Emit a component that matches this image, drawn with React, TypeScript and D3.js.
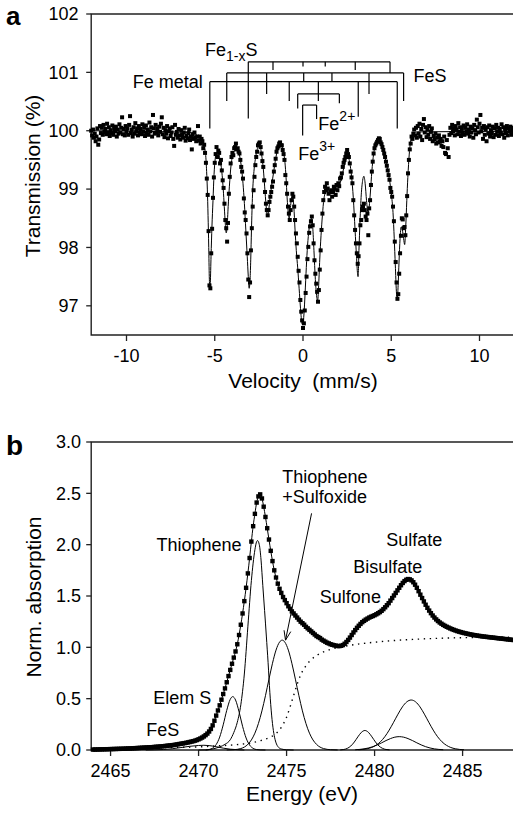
import React from 'react'
import * as d3 from 'd3'

const FONT = '"Liberation Sans", Arial, Helvetica, sans-serif'

// ---------- panel a: Mossbauer spectrum ----------
const velocityStep = 0.05
const transLeftStart = -12
const transLeft = [
  100.00, 99.92, 100.02, 99.88, 99.95, 99.82, 99.90, 100.04, 99.76, 99.85,
  100.08, 99.96, 100.05, 99.93, 100.10, 99.98, 100.03, 99.94, 100.12, 99.97,
  100.06, 99.91, 100.01, 99.96, 100.09, 99.93, 100.04, 99.99, 100.07, 99.90,
  100.02, 99.95, 100.11, 99.97, 100.05, 100.23, 99.94, 100.03, 99.92, 100.08,
  99.98, 100.04, 99.93, 100.10, 100.25, 99.96, 100.02, 99.90, 100.06, 99.95,
  100.13, 99.99, 100.04, 99.92, 100.08, 99.97, 100.03, 99.94, 100.11, 99.98,
  100.05, 99.91, 100.09, 99.96, 100.02, 99.93, 100.14, 99.99, 100.06, 99.90,
  100.27, 100.04, 99.95, 100.10, 99.97, 100.03, 99.92, 100.07, 99.98, 100.12,
  100.23, 99.94, 100.05, 99.89, 100.01, 99.95, 100.08, 99.87, 99.99, 100.04,
  99.91, 99.97, 100.06, 99.86, 99.74, 100.10, 99.93, 99.98, 99.88, 100.03,
  99.92, 99.85, 100.01, 99.94, 99.88, 99.97, 100.05, 99.83, 99.91, 99.87,
  99.96, 100.02, 99.84, 99.90, 99.68, 99.93, 99.86, 99.97, 99.88, 99.82,
  99.90, 100.08,
]
const transMidStart = -5.9
const transMid = [
  99.83, 99.90, 99.78, 99.86, 99.82, 99.70, 99.76, 99.62, 99.45, 99.18,
  98.90, 98.28, 97.35, 97.30, 97.90, 98.32, 98.85, 99.20, 99.45, 99.60,
  99.72, 99.55, 99.66, 99.62, 99.44, 99.50, 99.32, 99.15, 99.02, 98.75,
  98.47, 98.33, 98.10, 98.42, 98.92, 99.21, 99.44, 99.55, 99.62, 99.58,
  99.70, 99.72, 99.78, 99.68, 99.70, 99.64, 99.61, 99.50, 99.38, 99.30,
  99.18, 98.84, 98.60, 98.47, 98.24, 97.90, 97.45, 97.15, 97.40, 97.95,
  98.33, 98.70, 98.98, 99.21, 99.41, 99.55, 99.64, 99.75, 99.78, 99.80,
  99.72, 99.61, 99.48, 99.38, 99.15, 98.95, 98.75, 98.64, 98.55, 98.64,
  98.78, 98.87, 98.95, 99.04, 99.13, 99.30, 99.41, 99.52, 99.64, 99.70,
  99.73, 99.78, 99.80, 99.75, 99.75, 99.67, 99.60, 99.50, 99.24, 99.10,
  98.92, 98.70, 98.58, 98.47, 98.64, 98.81, 98.92, 98.87, 98.70, 98.47,
  98.24, 98.07, 97.84, 97.60, 97.40, 97.10, 96.90, 96.75, 96.62, 96.70,
  96.92, 97.22, 97.50, 97.80, 98.01, 98.25, 98.36, 98.45, 98.53, 98.38,
  98.07, 97.78, 97.55, 97.38, 97.24, 97.07, 97.27, 97.62, 97.95, 98.30,
  98.58, 98.81, 98.95, 99.04, 98.98, 99.10, 99.01, 98.92, 98.81, 98.95,
  98.98, 98.87, 98.95, 99.04, 99.01, 98.90, 99.07, 98.98, 99.10, 99.05,
  99.18, 99.20, 99.27, 99.38, 99.45, 99.50, 99.55, 99.61, 99.67, 99.60,
  99.55, 99.44, 99.30, 99.20, 99.10, 98.81, 98.55, 98.30, 98.07, 97.90,
  97.72, 97.85, 98.07, 98.38, 98.47, 98.64, 98.70, 98.75, 98.64, 98.53,
  98.47, 98.58, 98.21, 98.67, 98.81, 99.07, 99.30, 99.47, 99.61, 99.70,
  99.75, 99.78, 99.81, 99.84, 99.87, 99.86, 99.80, 99.77, 99.72, 99.67,
  99.61, 99.55, 99.47, 99.40, 99.32, 99.24, 99.16, 99.02, 98.95, 98.87,
  98.70, 98.45, 98.10, 97.75, 97.40, 97.12, 97.20, 97.55, 97.90, 98.20,
  98.50, 98.48, 98.33, 98.35, 98.21, 98.55, 98.88, 99.27, 99.50, 99.68,
  99.78, 99.90, 99.86, 99.95, 100.02,
]
const transRightStart = 6.35
const transRight = [
  99.92, 100.05, 99.88, 100.08, 99.95, 100.12, 99.90, 100.03, 99.84, 100.10,
  100.20, 99.97, 100.06, 99.89, 100.02, 99.93, 100.08, 99.86, 99.98, 100.04,
  99.82, 99.91, 99.85, 99.95, 99.78, 99.88, 99.80, 99.92, 99.81, 99.86,
  99.74, 99.82, 99.72, 99.90, 99.62, 99.60, 99.84, 99.70, 99.55, 99.93,
  100.05, 99.96, 100.10, 99.99, 100.04, 99.92, 100.08, 100.02, 99.94, 100.13,
  99.98, 100.06, 99.91, 100.03, 99.96, 100.09, 99.93, 100.05, 99.99, 100.11,
  99.95, 100.02, 99.90, 100.07, 99.97, 100.04, 99.88, 100.10, 100.01, 99.94,
  100.19, 100.06, 99.97, 100.12, 100.27, 99.99, 100.05, 99.86, 100.08, 99.93,
  100.03, 99.82, 100.06, 99.95, 100.09, 99.90, 100.01, 99.96, 100.07, 99.89,
  100.04, 99.93, 100.10, 99.98, 100.05, 99.91, 100.03, 99.97, 100.11, 99.94,
  100.06, 99.88, 100.02, 99.96, 100.08, 99.92, 100.04, 99.99, 100.07, 99.93,
  100.02, 99.97, 100.05, 99.95,
]
// fitted envelope [velocity, transmission]
const fitCurve: [number, number][] = [
  [-12, 100.0], [-6.3, 99.97], [-6.0, 99.92], [-5.8, 99.85], [-5.7, 99.8], [-5.6, 99.72],
  [-5.52, 99.6], [-5.46, 99.3], [-5.42, 99.0], [-5.38, 98.55], [-5.34, 98.0], [-5.31, 97.5],
  [-5.28, 97.28], [-5.25, 97.4], [-5.21, 97.85], [-5.16, 98.35], [-5.1, 98.8], [-5.04, 99.25],
  [-4.98, 99.5], [-4.9, 99.62], [-4.8, 99.62], [-4.7, 99.5], [-4.6, 99.3], [-4.52, 99.0],
  [-4.46, 98.7], [-4.4, 98.4], [-4.35, 98.25], [-4.3, 98.35], [-4.24, 98.7], [-4.17, 99.05],
  [-4.08, 99.4], [-3.98, 99.58], [-3.8, 99.68], [-3.62, 99.6], [-3.5, 99.4], [-3.4, 99.1],
  [-3.32, 98.75], [-3.24, 98.3], [-3.16, 97.85], [-3.1, 97.5], [-3.05, 97.3], [-3.0, 97.45],
  [-2.96, 97.8], [-2.92, 98.3], [-2.86, 98.9], [-2.78, 99.3], [-2.68, 99.55], [-2.55, 99.72],
  [-2.45, 99.75], [-2.35, 99.6], [-2.25, 99.35], [-2.15, 98.95], [-2.07, 98.65], [-2.01, 98.55],
  [-1.95, 98.62], [-1.87, 98.85], [-1.78, 99.05], [-1.65, 99.32], [-1.5, 99.6], [-1.35, 99.75],
  [-1.22, 99.75], [-1.12, 99.65], [-1.02, 99.45], [-0.96, 99.2], [-0.9, 98.85], [-0.83, 98.58],
  [-0.78, 98.5], [-0.73, 98.62], [-0.65, 98.85], [-0.58, 98.88], [-0.52, 98.7], [-0.45, 98.3],
  [-0.38, 97.95], [-0.3, 97.65], [-0.22, 97.3], [-0.14, 96.95], [-0.06, 96.7], [-0.02, 96.68],
  [0.04, 96.8], [0.1, 97.1], [0.17, 97.55], [0.24, 97.95], [0.32, 98.25], [0.42, 98.45],
  [0.49, 98.5], [0.55, 98.35], [0.62, 97.95], [0.7, 97.45], [0.78, 97.15], [0.83, 97.08],
  [0.88, 97.3], [0.95, 97.8], [1.02, 98.2], [1.1, 98.55], [1.18, 98.82], [1.3, 98.95],
  [1.5, 98.97], [1.8, 98.97], [2.0, 99.02], [2.15, 99.15], [2.3, 99.35], [2.45, 99.52],
  [2.55, 99.55], [2.65, 99.45], [2.75, 99.22], [2.85, 98.85], [2.95, 98.3], [3.03, 97.85],
  [3.09, 97.55], [3.12, 97.5], [3.17, 97.95], [3.23, 98.45], [3.3, 98.9], [3.38, 99.15],
  [3.45, 99.22], [3.52, 99.1], [3.6, 98.8], [3.68, 98.6], [3.75, 98.7], [3.82, 98.95],
  [3.9, 99.3], [4.0, 99.6], [4.15, 99.78], [4.32, 99.85], [4.5, 99.75], [4.65, 99.55],
  [4.8, 99.32], [4.92, 99.12], [5.02, 98.88], [5.1, 98.6], [5.17, 98.15], [5.23, 97.7],
  [5.29, 97.25], [5.34, 97.1], [5.39, 97.35], [5.44, 97.75], [5.5, 98.15], [5.56, 98.35],
  [5.63, 98.3], [5.7, 98.15], [5.76, 98.05], [5.82, 98.35], [5.88, 98.8], [5.94, 99.2],
  [6.02, 99.6], [6.12, 99.85], [6.25, 99.95], [6.5, 99.98], [12, 99.99],
]
const velocityTicks = [-10, -5, 0, 5, 10]
const transmissionTicks = [97, 98, 99, 100, 101, 102]

// stick diagrams: level of the bar, then [velocity, lower end of the stick]
const fe1xsLevel = 101.18
const fe1xsSticks = [[-3.1, 100.21], [-1.7, 101.04], [0.0, 101.1], [1.26, 101.1], [2.96, 101.04], [4.93, 100.99]]
const fesLevel = 100.99
const fesSticks = [[-4.32, 100.51], [-2.06, 100.63], [0.04, 100.84], [1.64, 100.84], [3.74, 100.63], [5.7, 100.51]]
const feMetalLevel = 100.84
const feMetalSticks = [[-5.28, 100.04], [-0.78, 100.51], [0.87, 100.51], [3.13, 100.24], [5.34, 100.04]]
const fe2Level = 100.63
const fe2Sticks = [[-0.3, 100.38], [2.06, 100.47]]
const fe3Level = 100.44
const fe3Sticks = [[-0.02, 99.92], [0.77, 100.2]]

// ---------- panel b: S K-edge XANES ----------
const energyStep = 0.1
const absPreStart = 2464.0
const absPre = [
  0.004, 0.004, 0.005, 0.005, 0.006, 0.006, 0.007, 0.007, 0.008, 0.008,
  0.009, 0.009, 0.010, 0.010, 0.011, 0.011, 0.012, 0.012, 0.013, 0.014,
  0.015, 0.015, 0.016, 0.017, 0.018, 0.019, 0.020, 0.021, 0.022, 0.023,
  0.024, 0.025, 0.026, 0.027, 0.028, 0.030, 0.031, 0.032, 0.034, 0.035,
  0.037, 0.039, 0.041, 0.043, 0.045, 0.047, 0.049, 0.052, 0.055, 0.058,
  0.061, 0.064, 0.067, 0.070, 0.074, 0.078, 0.082, 0.086, 0.091, 0.097,
]
const absEdgeStart = 2470.0
const absEdge = [
  0.104, 0.112, 0.121, 0.132, 0.145, 0.160, 0.180, 0.205, 0.240, 0.285,
  0.335, 0.385, 0.435, 0.49, 0.545, 0.60, 0.66, 0.72, 0.78, 0.84,
  0.90, 0.96, 1.03, 1.12, 1.22, 1.33, 1.45, 1.58, 1.72, 1.87,
  2.03, 2.18, 2.30, 2.41, 2.47, 2.49, 2.45, 2.37, 2.27, 2.16,
  2.05, 1.94, 1.84, 1.75, 1.68, 1.62, 1.57, 1.53, 1.49, 1.46,
  1.43, 1.40, 1.375, 1.35, 1.33, 1.31, 1.29, 1.27, 1.25, 1.235,
  1.22, 1.20, 1.185, 1.17, 1.155, 1.14, 1.125, 1.11, 1.10, 1.09,
  1.075, 1.065, 1.055, 1.045, 1.038, 1.03, 1.025, 1.02, 1.016, 1.013,
]
const absPostStart = 2478.0
const absPost = [
  1.012, 1.015, 1.022, 1.035, 1.052, 1.072, 1.095, 1.12, 1.145, 1.168,
  1.19, 1.21, 1.228, 1.245, 1.258, 1.27, 1.28, 1.29, 1.298, 1.305,
  1.313, 1.322, 1.332, 1.343, 1.356, 1.372, 1.39, 1.41, 1.43, 1.455,
  1.48, 1.505, 1.53, 1.555, 1.58, 1.605, 1.627, 1.645, 1.658, 1.665,
  1.662, 1.652, 1.634, 1.61, 1.58, 1.547, 1.513, 1.48, 1.447, 1.415,
  1.385, 1.358, 1.333, 1.31, 1.29, 1.272, 1.256, 1.242, 1.23, 1.219,
  1.209, 1.2, 1.192, 1.184, 1.177, 1.17, 1.164, 1.158, 1.153, 1.148,
  1.143, 1.139, 1.135, 1.131, 1.127, 1.124, 1.121, 1.118, 1.115, 1.112,
  1.11, 1.107, 1.105, 1.103, 1.101, 1.099, 1.097, 1.095, 1.093, 1.091,
  1.089, 1.087, 1.085, 1.083, 1.081, 1.079, 1.077, 1.075, 1.073, 1.071,
  1.069,
]
// fitted components [energy, absorption]
const compFeS: [number, number][] = [
  [2467.0, 0], [2467.5, 0.002], [2468.0, 0.005], [2468.5, 0.012], [2469.0, 0.024], [2469.5, 0.036],
  [2470.0, 0.044], [2470.3, 0.046], [2470.6, 0.043], [2471.0, 0.032], [2471.4, 0.018],
  [2471.8, 0.008], [2472.2, 0.003], [2472.6, 0],
]
const compElemS: [number, number][] = [
  [2470.0, 0], [2470.4, 0.001], [2470.6, 0.005], [2470.8, 0.018], [2471.0, 0.053], [2471.2, 0.126],
  [2471.4, 0.245], [2471.6, 0.386], [2471.8, 0.494], [2471.94, 0.52], [2472.1, 0.487],
  [2472.3, 0.372], [2472.5, 0.231], [2472.7, 0.117], [2472.9, 0.048], [2473.1, 0.016],
  [2473.3, 0.004], [2473.5, 0.001], [2473.8, 0],
]
const compThiophene: [number, number][] = [
  [2470.4, 0], [2470.8, 0.01], [2471.2, 0.03], [2471.5, 0.055], [2471.8, 0.10], [2472.0, 0.17],
  [2472.2, 0.27], [2472.4, 0.44], [2472.6, 0.74], [2472.8, 1.2], [2473.0, 1.65], [2473.1, 1.82],
  [2473.2, 1.95], [2473.3, 2.03], [2473.35, 2.04], [2473.45, 2.0], [2473.55, 1.85],
  [2473.65, 1.6], [2473.75, 1.36], [2473.85, 1.11], [2473.95, 0.85], [2474.05, 0.56],
  [2474.15, 0.34], [2474.25, 0.19], [2474.35, 0.1], [2474.5, 0.035], [2474.7, 0.01],
  [2475.0, 0.002], [2475.4, 0],
]
const compSulfoxide: [number, number][] = [
  [2471.6, 0.0005], [2472.0, 0.003], [2472.4, 0.014], [2472.8, 0.055], [2473.0, 0.098],
  [2473.2, 0.164], [2473.4, 0.258], [2473.6, 0.381], [2473.8, 0.529], [2474.0, 0.69],
  [2474.2, 0.845], [2474.4, 0.973], [2474.6, 1.051], [2474.75, 1.07], [2474.9, 1.051],
  [2475.1, 0.973], [2475.3, 0.845], [2475.5, 0.69], [2475.7, 0.529], [2475.9, 0.381],
  [2476.1, 0.258], [2476.3, 0.164], [2476.5, 0.098], [2476.7, 0.055], [2477.1, 0.014],
  [2477.5, 0.003], [2477.9, 0.0005],
]
const compSulfone: [number, number][] = [
  [2478.05, 0.0015], [2478.25, 0.005], [2478.45, 0.016], [2478.65, 0.039], [2478.85, 0.078],
  [2479.05, 0.128], [2479.25, 0.172], [2479.45, 0.19], [2479.65, 0.172], [2479.85, 0.128],
  [2480.05, 0.078], [2480.25, 0.039], [2480.45, 0.016], [2480.65, 0.005], [2480.85, 0.0015],
]
const compBisulfate: [number, number][] = [
  [2478.9, 0.0027], [2479.15, 0.0057], [2479.4, 0.011], [2479.65, 0.0196], [2479.9, 0.0324],
  [2480.15, 0.0496], [2480.4, 0.07], [2480.65, 0.092], [2480.9, 0.111], [2481.15, 0.125],
  [2481.4, 0.13], [2481.65, 0.125], [2481.9, 0.111], [2482.15, 0.092], [2482.4, 0.07],
  [2482.65, 0.0496], [2482.9, 0.0324], [2483.15, 0.0196], [2483.4, 0.011], [2483.65, 0.0057],
  [2483.9, 0.0027],
]
const compSulfate: [number, number][] = [
  [2479.08, 0.0024], [2479.33, 0.0056], [2479.58, 0.0121], [2479.83, 0.0245], [2480.08, 0.0459],
  [2480.33, 0.0798], [2480.58, 0.129], [2480.83, 0.194], [2481.08, 0.27], [2481.33, 0.349],
  [2481.58, 0.42], [2481.83, 0.469], [2482.08, 0.487], [2482.33, 0.469], [2482.58, 0.42],
  [2482.83, 0.349], [2483.08, 0.27], [2483.33, 0.194], [2483.58, 0.129], [2483.83, 0.0798],
  [2484.08, 0.0459], [2484.33, 0.0245], [2484.58, 0.0121], [2484.83, 0.0056], [2485.08, 0.0024],
]
const edgeStep: [number, number][] = [
  [2464.0, 0.015], [2466.0, 0.019], [2468.0, 0.024], [2470.0, 0.03], [2471.0, 0.04],
  [2472.0, 0.05], [2473.0, 0.07], [2473.5, 0.09], [2474.0, 0.12], [2474.4, 0.16], [2474.7, 0.22],
  [2475.0, 0.32], [2475.2, 0.42], [2475.4, 0.53], [2475.6, 0.64], [2475.8, 0.73], [2476.1, 0.82],
  [2476.4, 0.88], [2476.8, 0.93], [2477.4, 0.975], [2478.0, 1.0], [2479.0, 1.03], [2480.0, 1.05],
  [2481.0, 1.065], [2482.5, 1.08], [2484.0, 1.09], [2486.0, 1.097], [2488.0, 1.1],
]
const energyTicks = [2465, 2470, 2475, 2480, 2485]
const absorptionTicks = [0, 0.5, 1, 1.5, 2, 2.5, 3]

const seriesFrom = (start: number, step: number, values: number[]): [number, number][] =>
  values.map((v, i) => [start + i * step, v])

const mossbauer = [
  ...seriesFrom(transLeftStart, velocityStep, transLeft),
  ...seriesFrom(transMidStart, velocityStep, transMid),
  ...seriesFrom(transRightStart, velocityStep, transRight),
]
const xanes = [
  ...seriesFrom(absPreStart, energyStep, absPre),
  ...seriesFrom(absEdgeStart, energyStep, absEdge),
  ...seriesFrom(absPostStart, energyStep, absPost),
]

const axisColor = '#222'

const Sticks = ({ level, sticks, x, y }: any) => {
  const vs = sticks.map((s: number[]) => s[0])
  return (
    <g stroke='#000' strokeWidth={1.2}>
      <line x1={x(d3.min(vs))} x2={x(d3.max(vs))} y1={y(level)} y2={y(level)} />
      {sticks.map((s: number[], i: number) => (
        <line key={i} x1={x(s[0])} x2={x(s[0])} y1={y(level)} y2={y(s[1])} />
      ))}
    </g>
  )
}

const App = () => {
  // scales for panel a
  const xA = d3.scaleLinear().domain([-12, 12]).range([91.2, 514.8])
  const yA = d3.scaleLinear().domain([96.5, 102]).range([335, 14])
  // scales for panel b
  const xB = d3.scaleLinear().domain([2463.9, 2488]).range([91.2, 515.4])
  const yB = d3.scaleLinear().domain([0, 3]).range([750, 442])

  const fitLine = d3.line<[number, number]>().x(d => xA(d[0])).y(d => yA(d[1])).curve(d3.curveMonotoneX)
  const bLine = d3.line<[number, number]>().x(d => xB(d[0])).y(d => yB(d[1])).curve(d3.curveMonotoneX)

  const components = [compFeS, compElemS, compThiophene, compSulfoxide, compSulfone, compBisulfate, compSulfate]

  // arrow for Thiophene + Sulfoxide
  const a0 = [xB(2476.42), yB(2.305)]
  const a1 = [xB(2474.94), yB(1.07)]
  const ang = Math.atan2(a1[1] - a0[1], a1[0] - a0[0])
  const head = [ang + Math.PI - 0.35, ang + Math.PI + 0.35].map(t => [a1[0] + 10 * Math.cos(t), a1[1] + 10 * Math.sin(t)])

  const tickText = { fontFamily: FONT, fontSize: 18, fill: '#000' }
  const noteText = { fontFamily: FONT, fontSize: 18, fill: '#000' }
  const titleText = { fontFamily: FONT, fontSize: 21, fill: '#000' }

  const aL = xA.range()[0], aR = xA.range()[1], aT = yA.range()[1], aB = yA.range()[0]
  const bL = xB.range()[0], bR = xB.range()[1], bT = yB.range()[1], bB = yB.range()[0]

  return (
    <svg width={513} height={814} style={{ position: 'absolute', left: 0, top: 0, background: '#fff' }}>
      <rect width={513} height={814} fill='#fff' />

      {/* ---------------- panel a ---------------- */}
      <text x={6} y={25} fontFamily={FONT} fontSize={26} fontWeight='bold'>a</text>
      <path d={`M${aR},${aT}H${aL}V${aB}H${aR}`} fill='none' stroke={axisColor} strokeWidth={1.4} />
      {transmissionTicks.map(t => (
        <g key={t}>
          <line x1={aL - 5} x2={aL} y1={yA(t)} y2={yA(t)} stroke={axisColor} strokeWidth={1.3} />
          <text x={78.5} y={yA(t)} dy='0.35em' textAnchor='end' {...tickText}>{t}</text>
        </g>
      ))}
      {velocityTicks.map(t => (
        <g key={t}>
          <line x1={xA(t)} x2={xA(t)} y1={aB} y2={aB + 6} stroke={axisColor} strokeWidth={1.3} />
          <text x={xA(t)} y={aB + 27} textAnchor='middle' {...tickText}>{t}</text>
        </g>
      ))}
      <text x={303} y={388} textAnchor='middle' {...titleText} style={{ whiteSpace: 'pre' }}>Velocity  (mm/s)</text>
      <text transform={`translate(40,176) rotate(-90)`} textAnchor='middle' {...titleText}>Transmission (%)</text>

      {mossbauer.map((d, i) => (
        <rect key={i} x={xA(d[0]) - 2} y={yA(d[1]) - 2} width={4} height={4} fill='#000' />
      ))}
      <path d={fitLine(fitCurve) || ''} fill='none' stroke='#000' strokeWidth={1} />

      <Sticks level={fe1xsLevel} sticks={fe1xsSticks} x={xA} y={yA} />
      <Sticks level={fesLevel} sticks={fesSticks} x={xA} y={yA} />
      <Sticks level={feMetalLevel} sticks={feMetalSticks} x={xA} y={yA} />
      <Sticks level={fe2Level} sticks={fe2Sticks} x={xA} y={yA} />
      <Sticks level={fe3Level} sticks={fe3Sticks} x={xA} y={yA} />

      <text x={xA(-5.55)} y={yA(101.28)} {...noteText}>Fe<tspan fontSize={14} dy={5}>1-x</tspan><tspan dy={-5}>S</tspan></text>
      <text x={xA(-5.68)} y={yA(100.73)} textAnchor='end' {...noteText}>Fe metal</text>
      <text x={xA(6.26)} y={yA(100.84)} {...noteText}>FeS</text>
      <text x={xA(0.87)} y={yA(100.02)} {...noteText}>Fe<tspan fontSize={14} dy={-9}>2+</tspan></text>
      <text x={xA(-0.27)} y={yA(99.49)} {...noteText}>Fe<tspan fontSize={14} dy={-9}>3+</tspan></text>

      {/* ---------------- panel b ---------------- */}
      <text x={6} y={455} fontFamily={FONT} fontSize={28} fontWeight='bold'>b</text>
      <path d={`M${bR},${bT}H${bL}V${bB}H${bR}`} fill='none' stroke={axisColor} strokeWidth={1.4} />
      {absorptionTicks.map(t => (
        <g key={t}>
          <line x1={bL - 5} x2={bL} y1={yB(t)} y2={yB(t)} stroke={axisColor} strokeWidth={1.3} />
          <text x={81} y={yB(t)} dy='0.35em' textAnchor='end' {...tickText}>{d3.format('.1f')(t)}</text>
        </g>
      ))}
      {energyTicks.map(t => (
        <g key={t}>
          <line x1={xB(t)} x2={xB(t)} y1={bB} y2={bB + 6} stroke={axisColor} strokeWidth={1.3} />
          <text x={xB(t)} y={bB + 27} textAnchor='middle' {...tickText}>{t}</text>
        </g>
      ))}
      <text x={302} y={801} textAnchor='middle' {...titleText}>Energy (eV)</text>
      <text transform={`translate(41,597) rotate(-90)`} textAnchor='middle' {...titleText}>Norm. absorption</text>

      <path d={bLine(edgeStep) || ''} fill='none' stroke='#000' strokeWidth={1.4} strokeDasharray='1.4,4.6' />
      {components.map((c, i) => (
        <path key={i} d={bLine(c) || ''} fill='none' stroke='#000' strokeWidth={1} />
      ))}
      <path d={bLine(xanes) || ''} fill='none' stroke='#000' strokeWidth={1} />
      {xanes.map((d, i) => (
        <rect key={i} x={xB(d[0]) - 2.2} y={yB(d[1]) - 2.2} width={4.4} height={4.4} fill='#000' />
      ))}

      <g stroke='#000' strokeWidth={1} fill='none'>
        <line x1={a0[0]} y1={a0[1]} x2={a1[0]} y2={a1[1]} />
        <polyline points={`${head[0][0]},${head[0][1]} ${a1[0]},${a1[1]} ${head[1][0]},${head[1][1]}`} />
      </g>

      <text x={xB(2474.76)} y={yB(2.6)} {...noteText}>Thiophene</text>
      <text x={xB(2474.76)} y={yB(2.41)} {...noteText}>+Sulfoxide</text>
      <text x={xB(2467.61)} y={yB(1.94)} {...noteText}>Thiophene</text>
      <text x={xB(2467.43)} y={yB(0.445)} {...noteText}>Elem S</text>
      <text x={xB(2467.03)} y={yB(0.136)} {...noteText}>FeS</text>
      <text x={xB(2476.89)} y={yB(1.434)} {...noteText}>Sulfone</text>
      <text x={xB(2478.79)} y={yB(1.726)} {...noteText}>Bisulfate</text>
      <text x={xB(2480.66)} y={yB(1.986)} {...noteText}>Sulfate</text>
    </svg>
  )
}

export default App
